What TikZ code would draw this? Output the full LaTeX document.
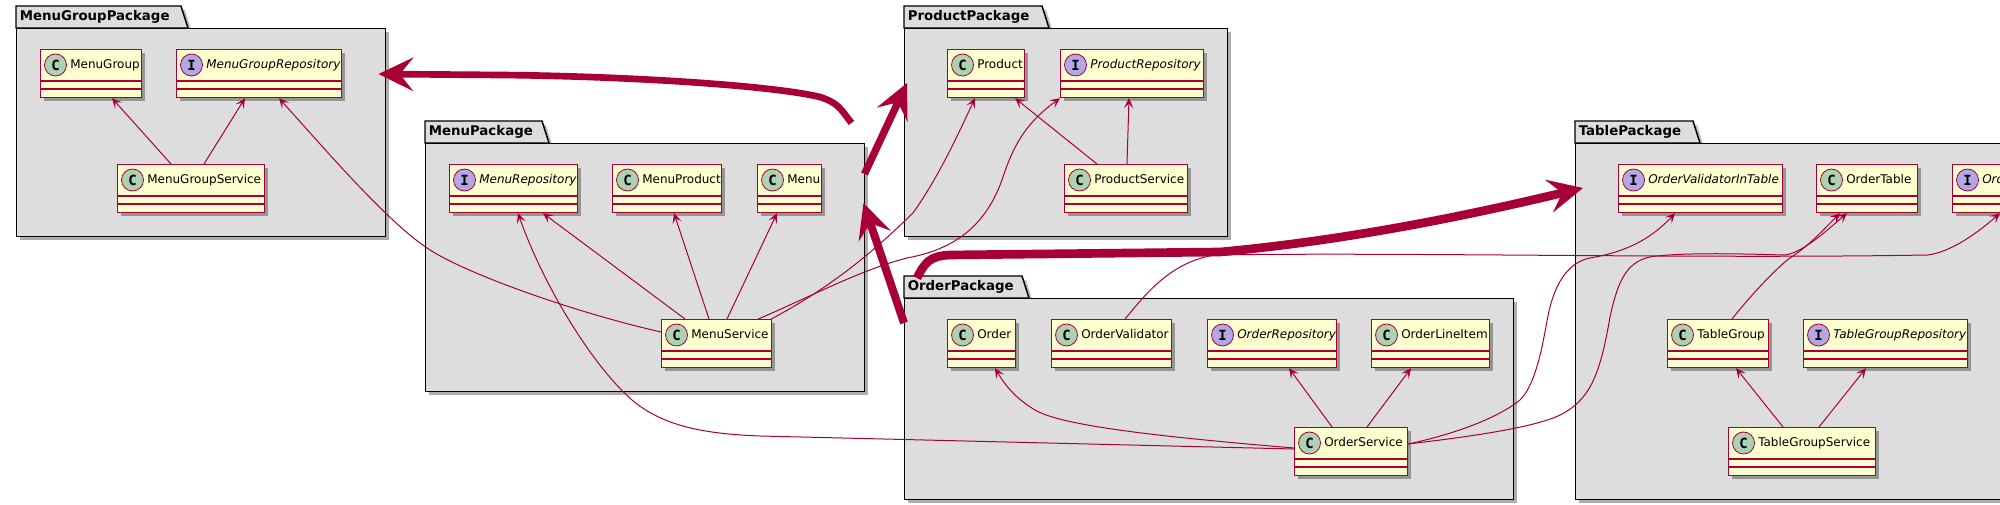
\documentclass[tikz,border=0pt]{standalone}
\usepackage{fontspec}
\setmainfont{DejaVu Sans}
\newfontfamily\spotfont{DejaVu Sans Mono}
\usetikzlibrary{arrows.meta,shadows}

\definecolor{umlred}{HTML}{A80036}
\definecolor{umlfill}{HTML}{FEFECE}
\definecolor{pkgfill}{HTML}{DDDDDD}
\definecolor{spotc}{HTML}{ADD1B2}
\definecolor{spoti}{HTML}{B4A7E5}

% name, spot letter, left, top, width, text
\newcommand{\umlclass}[6]{
  \node[classbox, minimum width=#5*0.75pt] (#1) at (#3,#4) {};
  \draw[classrule] ([shift={(0,32)}]#1.north west) -- ([shift={(0,32)}]#1.north east);
  \draw[classrule] ([shift={(0,40)}]#1.north west) -- ([shift={(0,40)}]#1.north east);
  \node[spotnode, spot#2] (#1Spot) at ([shift={(15.5,16)}]#1.north west) {#2};
  \node[classtext, label#2] (#1Text) at ([shift={(30,16)}]#1.north west) {#6};
}
% name, left, top, width, height, tab width, text
\newcommand{\umlpackage}[7]{
  \fill[pkgshadow] (#2+4,#3+4) -- ++(#6,0) -- ++(7,22) -- ++(-#6-7,0) -- cycle;
  \draw[pkgrule] (#2,#3) -- ++(#6,0) -- ++(7,22) -- ++(-#6-7,0) -- cycle;
  \node[pkgbox, minimum width=#4*0.75pt, minimum height=#5*0.75pt] (#1) at (#2,#3+22) {};
  \node[pkgtext] (#1Text) at (#2+3.5,#3+11) {#7};
}

\begin{document}
\begin{tikzpicture}[
    x=0.75pt, y=-0.75pt,
    softshadow/.style={drop shadow={shadow xshift=2.8pt, shadow yshift=-2.8pt, fill=black, opacity=0.32}},
    classbox/.style={draw=umlred, line width=0.9pt, fill=umlfill, anchor=north west, inner sep=0pt, minimum height=36pt, softshadow},
    classrule/.style={draw=umlred, line width=0.9pt},
    spotnode/.style={circle, draw=umlred, line width=0.6pt, inner sep=0pt, minimum size=16.5pt, font=\spotfont\bfseries\fontsize{10.5}{10.5}\selectfont},
    spotC/.style={fill=spotc},
    spotI/.style={fill=spoti},
    classtext/.style={anchor=west, inner sep=0pt, text height=7pt, text depth=2pt},
    labelC/.style={font=\fontsize{9}{11}\selectfont},
    labelI/.style={font=\itshape\fontsize{9}{11}\selectfont},
    pkgbox/.style={draw=black, line width=1.1pt, fill=pkgfill, anchor=north west, inner sep=0pt, softshadow},
    pkgrule/.style={draw=black, line width=1.1pt, fill=pkgfill},
    pkgshadow/.style={fill=black, opacity=0.25},
    pkgtext/.style={anchor=west, inner sep=0pt, font=\bfseries\fontsize{10}{12}\selectfont},
    uselink/.style={draw=umlred, line width=0.75pt, -{Stealth[length=7.5pt, width=7pt, inset=3.5pt]}},
    deplink/.style={draw=umlred, -{Stealth[length=26pt, width=25pt, inset=10pt]}},
]
\useasboundingbox (0,0) rectangle (2000,505);
\clip (0,0) rectangle (2000,505);

% Packages
\umlpackage{menuGroupPackage}{16}{6}{369}{208}{165}{MenuGroupPackage}
\umlpackage{menuPackage}{425}{121}{439}{248}{117}{MenuPackage}
\umlpackage{productPackage}{904}{6}{323}{208}{138}{ProductPackage}
\umlpackage{orderPackage}{904}{276}{609}{201}{118}{OrderPackage}
\umlpackage{tablePackage}{1575}{121}{500}{356}{118}{TablePackage}

% Menu group
\umlclass{menuGroup}{C}{40}{49}{101}{MenuGroup}
\umlclass{menuGroupRepository}{I}{176}{49}{165}{MenuGroupRepository}
\umlclass{menuGroupService}{C}{117}{164}{147}{MenuGroupService}

% Menu
\umlclass{menuRepository}{I}{449}{164}{128}{MenuRepository}
\umlclass{menuProduct}{C}{612}{164}{109}{MenuProduct}
\umlclass{menu}{C}{757}{164}{64}{Menu}
\umlclass{menuService}{C}{661}{319}{110}{MenuService}

% Product
\umlclass{product}{C}{947}{49}{77}{Product}
\umlclass{productRepository}{I}{1060}{49}{143}{ProductRepository}
\umlclass{productService}{C}{1064}{164}{123}{ProductService}

% Order
\umlclass{order}{C}{947}{319}{68}{Order}
\umlclass{orderValidator}{C}{1051}{319}{120}{OrderValidator}
\umlclass{orderRepository}{I}{1207}{319}{129}{OrderRepository}
\umlclass{orderLineItem}{C}{1371}{319}{118}{OrderLineItem}
\umlclass{orderService}{C}{1294}{427}{113}{OrderService}

% Table
\umlclass{orderValidatorInTable}{I}{1618}{164}{164}{OrderValidatorInTable}
\umlclass{orderTable}{C}{1816}{164}{101}{OrderTable}
\umlclass{orderClipped}{I}{1952}{164}{120}{Ord}
\umlclass{tableGroup}{C}{1667}{319}{101}{TableGroup}
\umlclass{tableGroupRepository}{I}{1803}{319}{164}{TableGroupRepository}
\umlclass{tableGroupService}{C}{1728}{427}{147}{TableGroupService}

% Links inside the menu group package
\draw[uselink] ([shift={(54,0)}]menuGroupService.north west) -- ([shift={(72,0)}]menuGroup.south west);
\draw[uselink] ([shift={(87,0)}]menuGroupService.north west) -- ([shift={(69,0)}]menuGroupRepository.south west);
\draw[uselink] ([shift={(0,13)}]menuService.north west) .. controls (581,314) and (467,275) .. (427,248) .. controls (387,221) and (330,155) .. ([shift={(103,0)}]menuGroupRepository.south west);

% Links of the menu service
\draw[uselink] ([shift={(24,0)}]menuService.north west) -- ([shift={(94,0)}]menuRepository.south west);
\draw[uselink] ([shift={(48,0)}]menuService.north west) -- ([shift={(62,0)}]menuProduct.south west);
\draw[uselink] ([shift={(66,0)}]menuService.north west) -- ([shift={(20,0)}]menu.south west);
\draw[uselink] ([shift={(-1,0)}]menuService.north east) .. controls (845,280) and (890,235) .. (913,213) .. controls (940,175) and (960,130) .. ([shift={(28,0)}]product.south west);
\draw[uselink] ([shift={(-14,0)}]menuService.north east) .. controls (810,297) and (860,270) .. (907,258) .. controls (950,250) and (985,230) .. (1003,177) .. controls (1015,140) and (1030,120) .. (productRepository.south west);

% Links inside the product package
\draw[uselink] ([shift={(33,0)}]productService.north west) -- ([shift={(68,0)}]product.south west);
\draw[uselink] ([shift={(63,0)}]productService.north west) -- ([shift={(69,0)}]productRepository.south west);

% Links of the order service
\draw[uselink] ([shift={(0,21)}]orderService.north west) .. controls (1150,436) and (1060,425) .. (1035,410) .. controls (1015,398) and (1005,385) .. ([shift={(48,0)}]order.south west);
\draw[uselink] ([shift={(38,0)}]orderService.north west) -- ([shift={(82,0)}]orderRepository.south west);
\draw[uselink] ([shift={(73,0)}]orderService.north west) -- ([shift={(40,0)}]orderLineItem.south west);
\draw[uselink] ([shift={(0,22)}]orderService.north west) -- (760,436) .. controls (710,434) and (665,428) .. (632,400) .. controls (595,368) and (545,290) .. ([shift={(69,0)}]menuRepository.south west);
\draw[uselink] ([shift={(0,17)}]orderService.north east) .. controls (1450,435) and (1495,420) .. (1520,400) .. controls (1540,380) and (1545,325) .. (1550,307) .. controls (1557,280) and (1570,262) .. (1590,258) .. controls (1625,252) and (1650,240) .. ([shift={(57,0)}]orderValidatorInTable.south west);
\draw[uselink] ([shift={(0,17)}]orderService.north east) .. controls (1440,440) and (1530,430) .. (1560,415) .. controls (1590,400) and (1600,375) .. (1610,317) .. controls (1617,285) and (1625,262) .. (1650,257) .. controls (1680,252) and (1750,254) .. (1783,255) .. controls (1800,255) and (1825,232) .. ([shift={(31,0)}]orderTable.south west);
\draw[uselink] ([shift={(74,0)}]orderValidator.north west) .. controls (1145,295) and (1170,262) .. (1215,255) .. controls (1400,252) and (1700,259) .. (1928,255) .. controls (1950,252) and (1975,235) .. ([shift={(48,0)}]orderClipped.south west);

% Links inside the table package
\draw[uselink] ([shift={(65,0)}]tableGroup.north west) .. controls (1755,290) and (1780,265) .. (1790,258) .. controls (1810,245) and (1825,228) .. ([shift={(24,0)}]orderTable.south west);
\draw[uselink] ([shift={(55,0)}]tableGroupService.north west) -- ([shift={(69,0)}]tableGroup.south west);
\draw[uselink] ([shift={(91,0)}]tableGroupService.north west) -- ([shift={(63,0)}]tableGroupRepository.south west);

% Package dependencies
\draw[deplink, line width=5pt] ([shift={(-14,-20)}]menuPackage.north east) .. controls (840,108) and (838,103) .. (820,97) .. controls (770,85) and (620,76) .. (500,75) -- ([shift={(-8,46)}]menuGroupPackage.north east);
\draw[deplink, line width=5.5pt] ([shift={(-1,31)}]menuPackage.north east) -- ([shift={(3,55)}]productPackage.north west);
\draw[deplink, line width=6pt] ([shift={(0,25)}]orderPackage.north west) -- ([shift={(-2,60)}]menuPackage.north east);
\draw[deplink, line width=6.5pt] ([shift={(13,-20)}]orderPackage.north west) .. controls (925,262) and (930,256) .. (950,255) -- (1220,252) .. controls (1350,240) and (1470,215) .. ([shift={(8,45)}]tablePackage.north west);

\end{tikzpicture}
\end{document}
